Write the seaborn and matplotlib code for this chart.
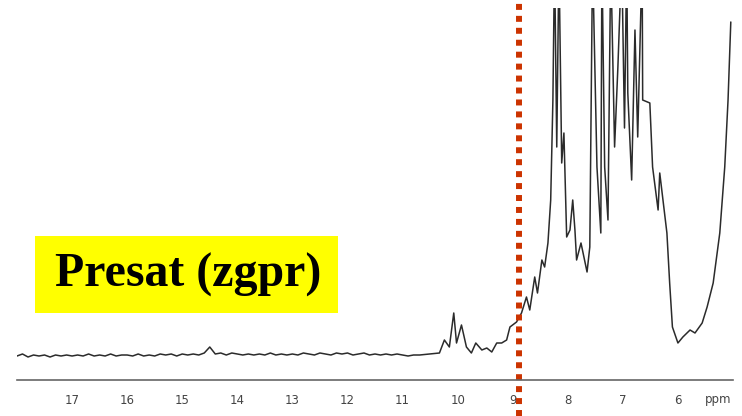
import numpy as np
import pandas as pd
import matplotlib
matplotlib.use("Agg")
import matplotlib.pyplot as plt
from matplotlib.patches import Rectangle
import matplotlib.transforms as mtransforms
import seaborn as sns

# ---- data (chemical shift in ppm, intensity in arbitrary units) ----
baseline_ppm = [18.0, 17.9, 17.8, 17.7, 17.6, 17.5, 17.4, 17.3, 17.2, 17.1,
                17.0, 16.9, 16.8, 16.7, 16.6, 16.5, 16.4, 16.3, 16.2, 16.1,
                16.0, 15.9, 15.8, 15.7, 15.6, 15.5, 15.4, 15.3, 15.2, 15.1,
                15.0, 14.9, 14.8, 14.7, 14.6, 14.5, 14.4, 14.3, 14.2, 14.1,
                14.0, 13.9, 13.8, 13.7, 13.6, 13.5, 13.4, 13.3, 13.2, 13.1,
                13.0, 12.9, 12.8, 12.7, 12.6, 12.5, 12.4, 12.3, 12.2, 12.1,
                12.0, 11.9, 11.8, 11.7, 11.6, 11.5, 11.4, 11.3, 11.2, 11.1,
                11.0, 10.9, 10.8]
baseline_int = [22, 24, 21, 23, 22, 23, 21, 23, 22, 23,
                22, 23, 22, 24, 22, 23, 22, 24, 22, 23,
                23, 22, 24, 22, 23, 22, 24, 23, 24, 22,
                24, 23, 24, 23, 25, 31, 24, 25, 23, 25,
                24, 23, 24, 23, 24, 23, 25, 23, 24, 23,
                24, 23, 25, 24, 23, 25, 24, 23, 25, 24,
                25, 23, 24, 25, 23, 24, 23, 24, 23, 24,
                23, 22, 23]

signal_ppm = [10.69, 10.33, 10.24, 10.15, 10.07, 10.02, 9.93, 9.84, 9.75, 9.67,
              9.56, 9.47, 9.38, 9.29, 9.20, 9.11, 9.05, 8.93, 8.84, 8.75,
              8.69, 8.60, 8.55, 8.47, 8.42, 8.36, 8.31, 8.27, 8.24, 8.20,
              8.16, 8.11, 8.07, 8.02, 7.96, 7.91, 7.87, 7.84, 7.76, 7.65,
              7.60, 7.55, 7.47, 7.40, 7.38, 7.33, 7.27, 7.22, 7.15, 7.09,
              7.02, 6.97, 6.93, 6.91, 6.84, 6.78, 6.73, 6.65, 6.64, 6.51,
              6.46, 6.36, 6.33, 6.20, 6.15, 6.10, 6.00, 5.91, 5.78, 5.69,
              5.56, 5.47, 5.36, 5.24, 5.15, 5.09, 5.04]
signal_int = [23, 25, 38, 31, 65, 35, 53, 31, 25, 35,
              28, 30, 26, 35, 35, 38, 51, 56, 65, 81,
              68, 101, 85, 118, 111, 135, 178, 278, 420, 231,
              420, 215, 245, 141, 148, 178, 148, 118, 135, 106,
              131, 420, 211, 145, 420, 211, 158, 420, 231, 311,
              420, 250, 420, 285, 198, 348, 241, 420, 278, 275,
              211, 168, 205, 145, 95, 51, 35, 41, 48, 45,
              55, 71, 95, 145, 211, 278, 356]

major_ticks = [17, 16, 15, 14, 13, 12, 11, 10, 9, 8, 7, 6]
major_labels = ["17", "16", "15", "14", "13", "12", "11", "10", "9", "8", "7", "6"]
presat_ppm = 8.89
title_text = "Presat (zgpr)"

# ---- figure ----
sns.set_style("white")
W, H = 742, 416
fig = plt.figure(figsize=(W / 100, H / 100), dpi=100)
ax = fig.add_axes([17 / W, (H - 380) / H, (733 - 17) / W, (380 - 8) / H])

df = pd.DataFrame({"ppm": baseline_ppm + signal_ppm,
                   "intensity": baseline_int + signal_int})
sns.lineplot(data=df, x="ppm", y="intensity", sort=False, estimator=None,
             color="#2b2b2b", linewidth=1.1, ax=ax)

ax.set_xlim(18.0, 5.0)
ax.set_ylim(-2, 370)
ax.set_xlabel("")
ax.set_ylabel("")
ax.set_yticks([])
for s in ["top", "left", "right"]:
    ax.spines[s].set_visible(False)
ax.spines["bottom"].set_color("#666666")
ax.spines["bottom"].set_linewidth(1.2)

ax.set_xticks(major_ticks)
ax.set_xticklabels(major_labels)
minor = [round(18.0 - 0.1 * i, 1) for i in range(131)]
ax.set_xticks(minor, minor=True)
ax.tick_params(axis="x", which="major", direction="out", length=5, width=1.0,
               color="#666666", labelsize=8.5, labelcolor="#444444", pad=5)
ax.tick_params(axis="x", which="minor", direction="out", length=2.5, width=0.9,
               color="#666666")

trans = mtransforms.blended_transform_factory(ax.transData, fig.transFigure)
ax.text(5.27, (H - 400) / H, "ppm", transform=trans, ha="center", va="center",
        fontsize=8.5, color="#444444")

# red dotted marker line (spans the full figure height)
ax.plot([presat_ppm, presat_ppm], [0, 1], transform=trans, color="#cc3300",
        linewidth=4.3, linestyle=(0, (1, 1)), solid_capstyle="butt",
        dash_capstyle="butt", clip_on=False)

# yellow label box
fig.patches.append(Rectangle((35 / W, (H - 313) / H), (338 - 35) / W, (313 - 236) / H,
                             transform=fig.transFigure, facecolor="#ffff00",
                             edgecolor="none", zorder=5))
fig.text(188 / W, (H - 275) / H, title_text, ha="center", va="center",
         fontsize=34.5, fontweight="bold", family="Liberation Serif", color="black",
         zorder=6)

fig.savefig("out.png", dpi=100)
